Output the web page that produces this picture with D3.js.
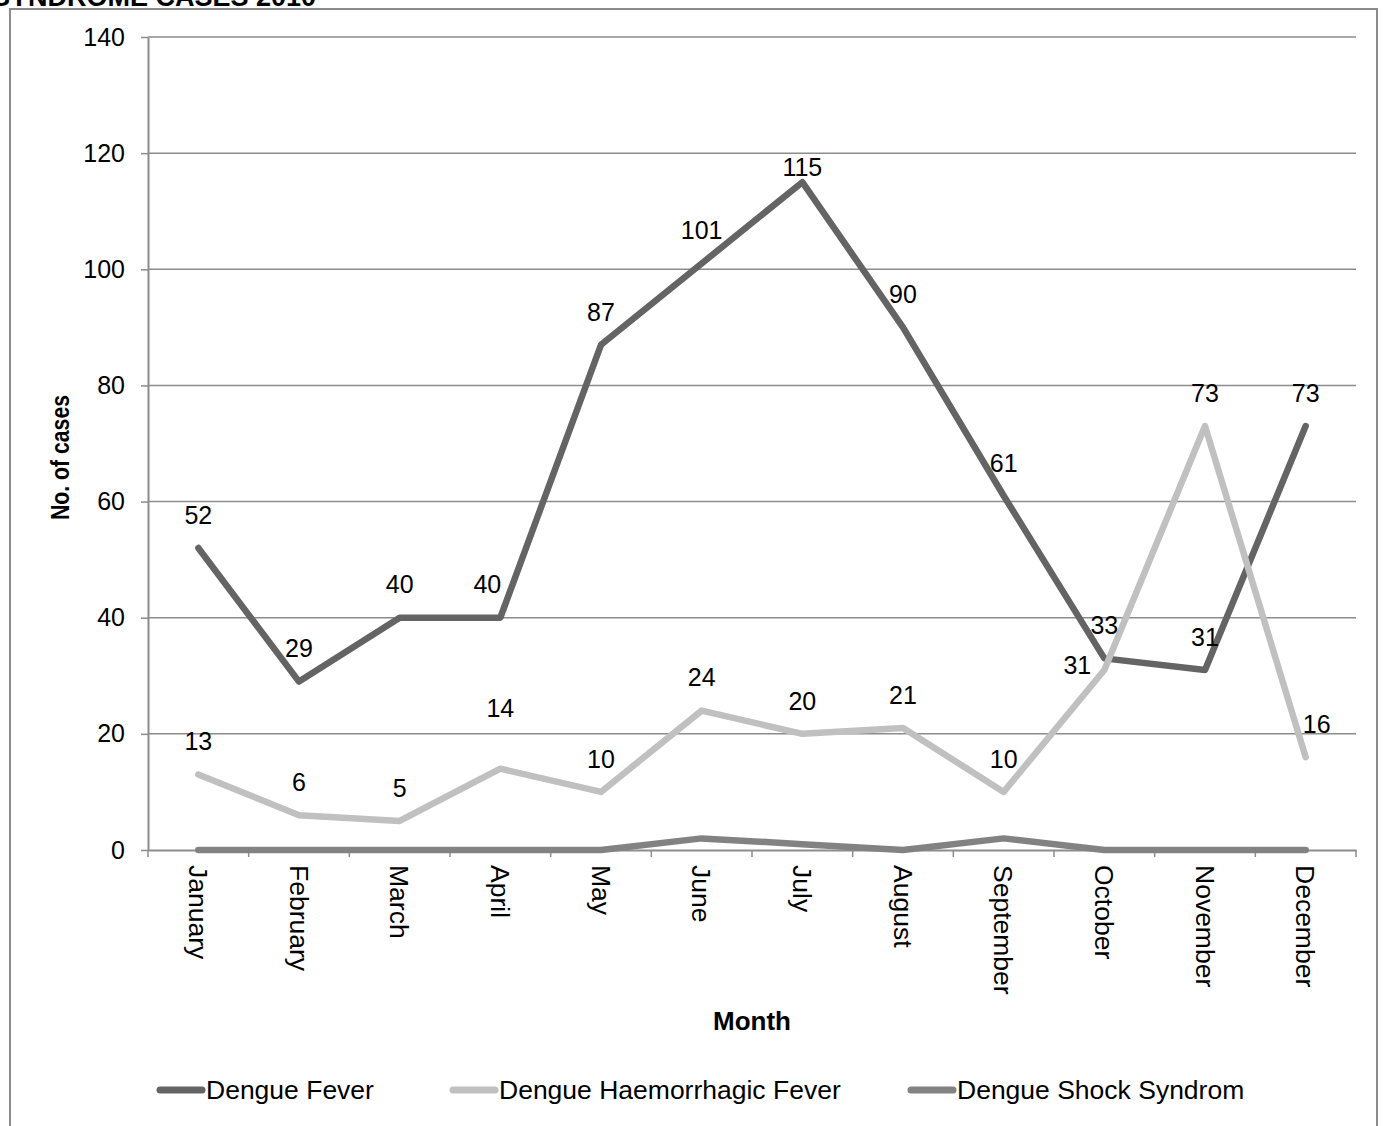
<!DOCTYPE html>
<html>
<head>
<meta charset="utf-8">
<script src="https://cdn.jsdelivr.net/npm/d3@7"></script>
<style>
  body { margin: 0; background: #fff; }
  svg { display: block; font-family: "Liberation Sans", Arial, sans-serif; }
</style>
</head>
<body>
<div id="chart"></div>
<script>
// Daten
const months = ["January", "February", "March", "April", "May", "June",
  "July", "August", "September", "October", "November", "December"];
const dengueFever = [52, 29, 40, 40, 87, 101, 115, 90, 61, 33, 31, 73];
const haemorrhagic = [13, 6, 5, 14, 10, 24, 20, 21, 10, 31, 73, 16];
const shockSyndrom = [0, 0, 0, 0, 0, 2, 1, 0, 2, 0, 0, 0];
const yTicks = [0, 20, 40, 60, 80, 100, 120, 140];

const series = [
  { name: "Dengue Fever", values: dengueFever, color: "#646464", labels: true },
  { name: "Dengue Haemorrhagic Fever", values: haemorrhagic, color: "#c0c0c0", labels: true },
  { name: "Dengue Shock Syndrom", values: shockSyndrom, color: "#828282", labels: false }
];

// Label-Verschiebungen (Excel weicht Überlappungen aus)
const nudge = {
  "Dengue Fever": { 3: [-13, 0], 6: [0, 18] },
  "Dengue Haemorrhagic Fever": { 3: [0, -27], 9: [-27, 28], 11: [11, 0] }
};

const width = 1386, height = 1126;
const plotLeft = 148, plotRight = 1356, plotTop = 37, plotBottom = 850;

const svg = d3.select("#chart").append("svg")
  .attr("width", width)
  .attr("height", height);

// abgeschnittener Titel oben
svg.append("text")
  .attr("x", -8).attr("y", 6)
  .style("font-size", "27px").style("font-weight", "bold")
  .text("SYNDROME CASES 2010");

// Rahmen
svg.append("rect")
  .attr("x", 10).attr("y", 9)
  .attr("width", 1367).attr("height", 1140)
  .attr("fill", "none").attr("stroke", "#8c8c8c").attr("stroke-width", 2);

const x = d3.scaleBand().domain(months).range([plotLeft, plotRight]);
const y = d3.scaleLinear().domain([0, 140]).range([plotBottom, plotTop]);
const cx = d => x(d) + x.bandwidth() / 2;

// Gitternetz
svg.append("g")
  .selectAll("line")
  .data(yTicks.filter(d => d > 0))
  .enter()
  .append("line")
  .attr("x1", plotLeft).attr("x2", plotRight)
  .attr("y1", d => y(d)).attr("y2", d => y(d))
  .attr("stroke", "#8c8c8c").attr("stroke-width", 1.5);

// y-Achse
const yAxis = svg.append("g")
  .attr("transform", `translate(${plotLeft},0)`)
  .call(d3.axisLeft(y).tickValues(yTicks).tickSize(7).tickPadding(16).tickSizeOuter(0));
yAxis.select(".domain").attr("stroke", "#8c8c8c").attr("stroke-width", 2);
yAxis.selectAll(".tick line").attr("stroke", "#8c8c8c").attr("stroke-width", 1.5);
yAxis.selectAll(".tick text").style("font-size", "25px").attr("fill", "#000");

// x-Achse
const xAxis = svg.append("g")
  .attr("transform", `translate(0,${plotBottom})`)
  .call(d3.axisBottom(x).tickSize(0).tickSizeOuter(0));
xAxis.select(".domain").attr("stroke", "#8c8c8c").attr("stroke-width", 2);
xAxis.selectAll(".tick text")
  .style("font-size", "26.5px").attr("fill", "#000")
  .attr("transform", "rotate(90)")
  .attr("x", 15).attr("y", 0).attr("dy", "0.35em")
  .style("text-anchor", "start");

// Tick-Striche an den Bandgrenzen
svg.append("g")
  .selectAll("line")
  .data(months.concat(["end"]))
  .enter()
  .append("line")
  .attr("x1", (d, i) => plotLeft + i * x.bandwidth())
  .attr("x2", (d, i) => plotLeft + i * x.bandwidth())
  .attr("y1", plotBottom).attr("y2", plotBottom + 7)
  .attr("stroke", "#8c8c8c").attr("stroke-width", 1.5);

// Achsentitel
svg.append("text")
  .attr("transform", `translate(60,${(plotTop + plotBottom) / 2 + 14}) rotate(-90)`)
  .attr("dy", "0.35em")
  .style("text-anchor", "middle")
  .style("font-size", "25px").style("font-weight", "bold")
  .attr("textLength", 125).attr("lengthAdjust", "spacingAndGlyphs")
  .text("No. of cases");

svg.append("text")
  .attr("x", (plotLeft + plotRight) / 2).attr("y", 1030)
  .style("text-anchor", "middle")
  .style("font-size", "26px").style("font-weight", "bold")
  .text("Month");

// Linien
const line = d3.line()
  .x((d, i) => cx(months[i]))
  .y(d => y(d));

// DSS zuerst zeichnen, damit die anderen oben liegen
[series[2], series[0], series[1]].forEach(s => {
  svg.append("path")
    .datum(s.values)
    .attr("d", line)
    .attr("fill", "none")
    .attr("stroke", s.color)
    .attr("stroke-width", 6.5)
    .attr("stroke-linecap", "round")
    .attr("stroke-linejoin", "round");
});

// Datenbeschriftungen
series.filter(s => s.labels).forEach(s => {
  svg.append("g")
    .selectAll("text")
    .data(s.values)
    .enter()
    .append("text")
    .attr("x", (d, i) => cx(months[i]) + ((nudge[s.name][i] || [0, 0])[0]))
    .attr("y", (d, i) => y(d) - 33 + ((nudge[s.name][i] || [0, 0])[1]))
    .attr("dy", "0.35em")
    .style("text-anchor", "middle")
    .style("font-size", "25px")
    .text(d => d);
});

// Legende
const legendX = [157, 450, 908];
const legend = svg.append("g")
  .selectAll("g")
  .data(series)
  .enter()
  .append("g")
  .attr("transform", (d, i) => `translate(${legendX[i]},1090)`);

legend.append("line")
  .attr("x1", 3).attr("x2", 45)
  .attr("y1", 0).attr("y2", 0)
  .attr("stroke", d => d.color)
  .attr("stroke-width", 7)
  .attr("stroke-linecap", "round");

legend.append("text")
  .attr("x", 49).attr("y", 0).attr("dy", "0.35em")
  .style("font-size", "26.5px")
  .text(d => d.name);
</script>
</body>
</html>
